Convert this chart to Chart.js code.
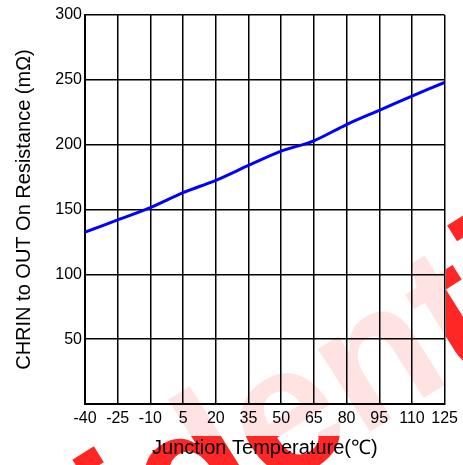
<!DOCTYPE html>
<html>
<head>
<meta charset="utf-8">
<script src="https://cdn.jsdelivr.net/npm/chart.js@4/dist/chart.umd.min.js"></script>
<style>
html,body{margin:0;padding:0;background:#fff;}
canvas{display:block;}
</style>
</head>
<body>
<canvas id="c" width="463" height="465"></canvas>
<script>
// Data
const temperatures = [-40, -25, -10, 5, 20, 35, 50, 65, 80, 95, 110, 125];
const resistance = [132.5, 142, 151.5, 163, 172.5, 184, 195, 203, 215.5, 226.5, 237.5, 248];
const xTickValues = [-40, -25, -10, 5, 20, 35, 50, 65, 80, 95, 110, 125];
const yTickValues = [50, 100, 150, 200, 250, 300];
const xTitle = 'Junction Temperature(℃)';
const yTitle = 'CHRIN to OUT On Resistance (mΩ)';
const watermarkText = 'Confidential';

const FONT = '"Liberation Sans", Arial, sans-serif';

const watermark = {
  id: 'watermark',
  beforeDraw(chart) {
    const ctx = chart.ctx;
    ctx.save();
    ctx.fillStyle = '#ffffff';
    ctx.fillRect(0, 0, chart.width, chart.height);
    ctx.translate(290, 425);
    ctx.rotate(-32 * Math.PI / 180);
    const size = 185;
    ctx.font = 'bold ' + size + 'px ' + FONT;
    const pre = ctx.measureText('Confid').width;
    const eW = ctx.measureText('e').width;
    ctx.fillStyle = 'rgba(255,0,0,0.85)';
    ctx.textBaseline = 'alphabetic';
    ctx.fillText(watermarkText, -(pre + eW / 2), size * 0.26);
    ctx.restore();
    ctx.save();
    ctx.fillStyle = 'rgba(255,255,255,0.87)';
    ctx.fillRect(0, 0, 446, 436);
    ctx.restore();
  }
};

new Chart(document.getElementById('c'), {
  type: 'line',
  data: {
    datasets: [{
      data: temperatures.map((t, i) => ({x: t, y: resistance[i]})),
      borderColor: '#0000ff',
      borderWidth: 3,
      pointRadius: 0,
      tension: 0.3,
      fill: false
    }]
  },
  options: {
    responsive: false,
    animation: false,
    devicePixelRatio: 1,
    layout: {padding: {top: 15, right: 18, bottom: 5, left: 12}},
    plugins: {legend: {display: false}, tooltip: {enabled: false}},
    scales: {
      x: {
        type: 'linear',
        min: -40, max: 125,
        afterBuildTicks(scale) { scale.ticks = xTickValues.map(v => ({value: v})); },
        afterFit(scale) { scale.height = 56; },
        ticks: {
          autoSkip: false, maxRotation: 0, padding: 5,
          color: '#000', font: {family: FONT, size: 16}
        },
        grid: {color: '#000', lineWidth: 1.5, drawTicks: false},
        border: {color: '#000', width: 2},
        title: {display: true, text: xTitle, color: '#000', font: {family: FONT, size: 20}, padding: 0}
      },
      y: {
        min: 0, max: 300,
        afterBuildTicks(scale) { scale.ticks = [0].concat(yTickValues).map(v => ({value: v})); },
        afterFit(scale) { scale.width = 73; },
        ticks: {
          padding: 3, color: '#000', font: {family: FONT, size: 16},
          callback: v => (v === 0 ? '' : String(v))
        },
        grid: {color: '#000', lineWidth: 1.5, drawTicks: false},
        border: {color: '#000', width: 2},
        title: {display: true, text: yTitle, color: '#000', font: {family: FONT, size: 20}, padding: 0}
      }
    }
  },
  plugins: [watermark]
});
</script>
</body>
</html>
